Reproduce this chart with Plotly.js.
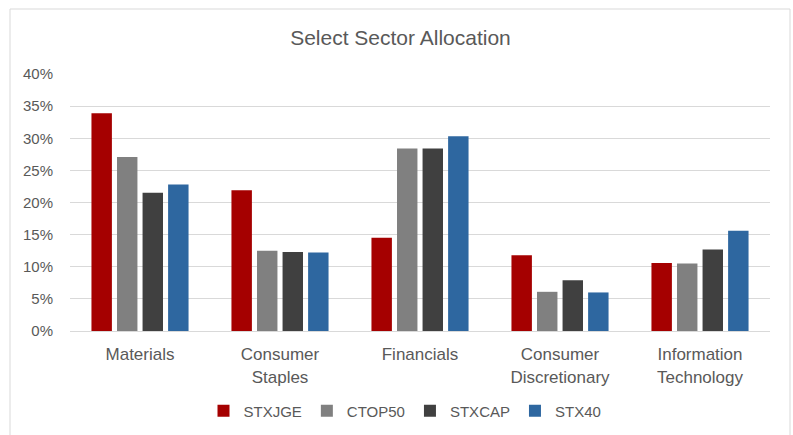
<!DOCTYPE html>
<html>
<head>
<meta charset="utf-8">
<script src="https://cdn.plot.ly/plotly-3.0.1.min.js"></script>
<style>html,body{margin:0;padding:0;background:#fff;}#chart{width:793px;height:435px;}</style>
</head>
<body>
<div id="chart"></div>
<script>
const categories = ["Materials", "Consumer<br>Staples", "Financials", "Consumer<br>Discretionary", "Information<br>Technology"];
const seriesNames = ["STXJGE", "CTOP50", "STXCAP", "STX40"];
const stxjge = [0.339, 0.219, 0.145, 0.118, 0.106];
const ctop50 = [0.271, 0.125, 0.284, 0.061, 0.105];
const stxcap = [0.215, 0.123, 0.284, 0.079, 0.127];
const stx40  = [0.228, 0.122, 0.303, 0.060, 0.156];
const colors = ["#A50000", "#808080", "#404040", "#2E67A0"];
const yTicks = [0, 0.05, 0.10, 0.15, 0.20, 0.25, 0.30, 0.35, 0.40];

const values = [stxjge, ctop50, stxcap, stx40];
const traces = values.map((v, i) => ({
  type: 'bar', name: seriesNames[i], x: categories, y: v,
  marker: {color: colors[i]}, hoverinfo: 'none'
}));

const layout = {
  width: 793, height: 435,
  margin: {l: 70, r: 23, t: 74, b: 104, autoexpand: false},
  paper_bgcolor: '#fff', plot_bgcolor: '#fff',
  font: {family: 'Liberation Sans, Arial, sans-serif', color: '#595959', size: 15},
  title: {text: 'Select Sector Allocation', font: {size: 21, color: '#595959'},
          xref: 'container', x: 0.505, xanchor: 'center', yref: 'container', y: 1 - 38/435, yanchor: 'middle'},
  barmode: 'group', bargap: 0.27, bargroupgap: 0.2,
  xaxis: {showgrid: false, showline: true, linecolor: '#d9d9d9', linewidth: 1, ticks: '',
          ticklabelstandoff: 8, automargin: false,
          tickfont: {size: 17, color: '#595959'}, fixedrange: true},
  yaxis: {range: [0, 0.40], tickvals: yTicks, tickformat: '.0%', showgrid: true, gridcolor: '#d9d9d9',
          gridwidth: 1, zeroline: false, showline: false, ticks: '', ticklabelstandoff: 16, automargin: false,
          tickfont: {size: 15, color: '#595959'}, fixedrange: true},
  showlegend: true,
  legend: {orientation: 'h', x: (405 - 70) / 700, xanchor: 'center', y: (331 - 411) / 257, yanchor: 'middle',
           font: {size: 15, color: '#595959'}, itemwidth: 30, traceorder: 'normal'},
  shapes: [{type: 'rect', xref: 'paper', yref: 'paper', x0: (10 - 70) / 700, x1: (790 - 70) / 700,
            y0: (331 - 445) / 257, y1: (331 - 9) / 257, line: {color: '#d9d9d9', width: 1}, layer: 'below'}]
};

Plotly.newPlot('chart', traces, layout, {displayModeBar: false, staticPlot: true});
</script>
</body>
</html>
